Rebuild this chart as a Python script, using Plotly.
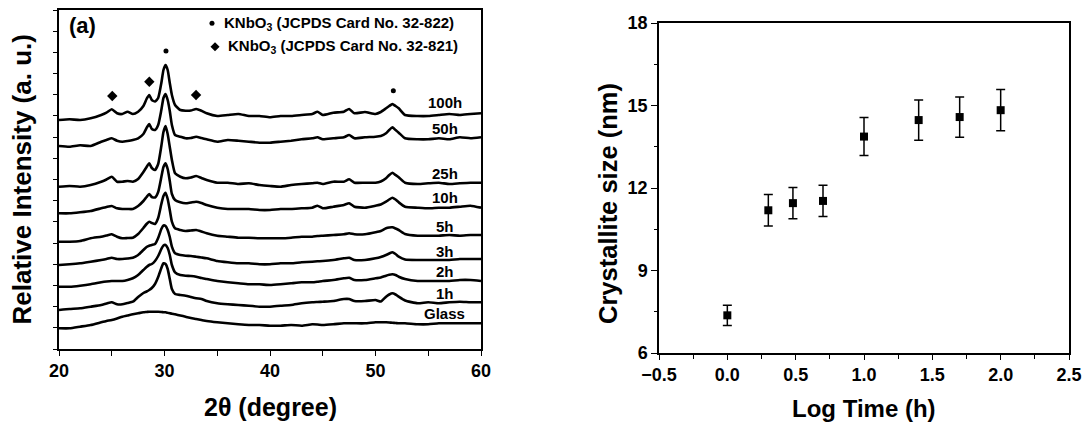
import plotly.graph_objects as go

# ---------------- Left panel: XRD patterns (heights in a.u., stacked) ----------------
two_theta = [20, 21, 22, 23, 24, 24.5, 25, 25.5, 26, 26.5, 27, 27.5, 28, 28.3, 28.55, 28.8,
             29.1, 29.4, 29.7, 29.9, 30.1, 30.3, 30.5, 30.7, 31, 31.5, 32, 32.5, 33, 33.5, 34,
             35, 36, 37, 38, 39, 40, 41, 42, 43, 44, 44.5, 45, 46, 47, 47.5, 48, 49, 50, 50.5,
             51, 51.3, 51.6, 51.9, 52.2, 52.8, 54, 55, 56, 57, 58, 59, 60]

xrd_100h = [229, 229.7, 229, 230.7, 234, 236.3, 239.7, 235.7, 235, 237.3, 235, 237.3, 243, 250, 254, 249,
            247.5, 251, 266, 279, 284, 279, 266, 254, 244, 239, 238.3, 238.5, 240, 238.3, 235.7,
            233, 234, 235, 233, 233, 231.7, 233, 233, 234, 235, 237.3, 234, 236.3, 237.3, 240, 235.7, 237, 235, 237,
            240.7, 243, 245, 243, 240.7, 234, 233, 233, 234, 235, 234, 235, 235.7]
xrd_50h = [203, 202.3, 203.7, 203, 207.3, 209, 210.7, 208.3, 207.3, 208, 209, 210.7, 215, 221, 225, 220,
           219, 224, 239, 251, 255, 249, 238, 224, 214, 212.3, 210.7, 211, 212.3, 211, 209.7,
           207.3, 209, 208.3, 207.3, 206.3, 206.3, 207.3, 208.3, 209.7, 210.7, 211.7, 209.7, 210.7, 211.7, 214, 210.7, 211.7, 212.3, 213,
           215.7, 219, 221.7, 219, 216.3, 210.7, 209.7, 209.7, 210.7, 209.7, 211.7, 210.7, 211.7]
xrd_25h = [162.3, 163, 162.3, 164, 167.3, 169.5, 172.3, 167.3, 167.3, 168, 167.3, 170, 177, 182, 185.7, 181,
           179, 185, 203, 217, 223, 215, 202, 189, 175.7, 172.3, 170.7, 171.5, 173, 171, 169,
           166.3, 166.3, 165, 165.7, 164, 163, 162.3, 164, 165, 165.7, 166.3, 165, 167.3, 167.3, 169.7, 166.3, 166.3, 166.3, 167.5,
           170.7, 174, 176.3, 174, 171.7, 166.3, 165, 165.7, 166.3, 165, 165.7, 166.3, 166.3]
xrd_10h = [135.7, 135.7, 136.7, 138, 140.7, 142, 143, 140.7, 140, 140, 140, 143, 148, 152, 155, 152,
           151.5, 157, 172, 182, 185.7, 180, 168, 155, 149, 146.7, 145.7, 146.5, 147.3, 146, 144,
           141.3, 140, 140, 140, 139, 139, 140, 140, 140.7, 141.3, 143.3, 140.7, 142.3, 144, 145.7, 142.3, 141.3, 143.3, 144.5,
           147.3, 149.5, 151.3, 149.5, 146.7, 142.3, 141.3, 140.7, 141.3, 141.3, 142.3, 143.3, 141.3]
xrd_5h = [107.3, 107.3, 108, 110.7, 112.3, 113.5, 114.7, 112.3, 110.7, 111, 111.3, 115, 121, 125, 127.3, 126,
          125, 131, 145, 153, 156.3, 150, 139, 127.3, 120.7, 119, 118, 118.5, 119, 117.5, 115.7,
          113.3, 112.3, 111.3, 111.3, 110.7, 110.7, 110.7, 111.3, 112.3, 112.3, 113, 113.3, 114, 114.7, 115.7, 114.7, 114.7, 116.7, 118,
          120.7, 121.5, 121.7, 120.5, 119, 115, 113.3, 113.3, 113.3, 114, 113.3, 114, 114]
xrd_3h = [84, 84.7, 85.7, 87.3, 89, 90, 91.3, 90, 90, 90.5, 91.3, 94, 99, 102, 103.3, 104,
          105, 111, 120, 123.5, 123, 119, 112, 102.3, 95.7, 94, 93.3, 93, 92.3, 91.5, 90.7,
          88, 86.7, 85.7, 85.7, 84.7, 84.7, 85.7, 85.7, 86.7, 87.3, 87.7, 88, 89, 90.7, 91.3, 89, 89, 90.7, 92,
          94, 95.5, 96.7, 95, 92.3, 89.5, 89, 89, 89, 89, 90, 90, 90]
xrd_2h = [62.3, 62.3, 63.3, 64.7, 66.7, 67.5, 68, 68, 68, 69, 70.7, 74, 79, 82, 84, 85,
          88, 93, 100, 103.5, 104, 101, 94, 84, 76.7, 74, 73.3, 73, 72.3, 71, 70,
          68, 66.7, 65.7, 64.7, 64.7, 64, 64.7, 65.7, 66.7, 66.7, 67.3, 68, 69, 70.7, 71.3, 69, 69, 70.7, 71.5,
          73.3, 74.2, 74.7, 74, 72.3, 70, 68, 68, 68, 68, 69, 69, 68]
xrd_1h = [39, 40, 40.7, 42.3, 44, 45.5, 46.7, 44.7, 44.7, 46, 47.3, 52, 56, 57.5, 59, 61,
          65, 72, 81, 85.7, 85, 80, 70, 60, 55, 54, 53.3, 52, 50.7, 50, 48,
          45.7, 44.7, 44, 43.3, 42.3, 42.3, 43.3, 44, 45.7, 46.7, 47, 47.3, 48, 50, 50, 48, 48, 49, 47.5,
          52.3, 54.5, 55.7, 54.5, 52.3, 48.5, 45.7, 46.7, 45.7, 46.7, 47.3, 46.7, 46.7]
xrd_glass = [20.7, 20.7, 22.3, 24, 26.7, 28, 29, 30.5, 32.3, 33.5, 34.7, 35.7, 36.7, 37, 37.3, 37.3,
             37.3, 37.2, 37, 36.8, 36.7, 36.2, 35.8, 35.3, 34.7, 33.5, 32.3, 31, 30, 29, 28,
             26.7, 25.7, 24.7, 24, 24, 23.3, 23.3, 24, 23.3, 24.7, 24.5, 24, 24.7, 25.7, 25.7, 25.7, 25.7, 26.7, 26.7,
             26.7, 26.5, 26.2, 26, 25.7, 25.7, 24.7, 24.7, 25.7, 25.7, 25.7, 25.7, 25.7]

sample_labels = ["100h", "50h", "25h", "10h", "5h", "3h", "2h", "1h", "Glass"]
label_heights = [246.5, 220.5, 176, 151.5, 122.3, 98, 77.3, 56, 36]
label_2theta = 56.54

diamond_2theta = [25.05, 28.56, 32.99]
diamond_heights = [253, 267.3, 254]
dot_2theta = [30.14, 51.69]
dot_heights = [298, 258.3]

legend_texts = ["KNbO<sub>3</sub> (JCPDS Card No. 32-822)",
                "KNbO<sub>3</sub> (JCPDS Card No. 32-821)"]

# ---------------- Right panel: crystallite size ----------------
log_time = [0.0, 0.30, 0.48, 0.70, 1.0, 1.40, 1.70, 2.0]
crystallite_size = [7.37, 11.19, 11.45, 11.53, 13.87, 14.47, 14.58, 14.83]
size_error = [0.37, 0.57, 0.57, 0.57, 0.69, 0.73, 0.73, 0.75]

FONT = "Liberation Sans, Arial, Helvetica, sans-serif"
W, H = 1087, 426

fig = go.Figure()

curves = [xrd_100h, xrd_50h, xrd_25h, xrd_10h, xrd_5h, xrd_3h, xrd_2h, xrd_1h, xrd_glass]
for name, ys in zip(sample_labels, curves):
    fig.add_trace(go.Scatter(x=two_theta, y=ys, mode="lines", name=name,
                             line=dict(color="black", width=2.6, shape="spline", smoothing=0.5),
                             xaxis="x", yaxis="y", showlegend=False, hoverinfo="skip"))

fig.add_trace(go.Scatter(x=diamond_2theta, y=diamond_heights, mode="markers",
                         marker=dict(symbol="diamond", size=8, color="black"),
                         xaxis="x", yaxis="y", showlegend=False))
fig.add_trace(go.Scatter(x=dot_2theta, y=dot_heights, mode="markers",
                         marker=dict(symbol="circle", size=5, color="black"),
                         xaxis="x", yaxis="y", showlegend=False))

# legend symbols (inside left panel)
fig.add_trace(go.Scatter(x=[34.50], y=[325.7], mode="markers",
                         marker=dict(symbol="circle", size=5, color="black"),
                         xaxis="x", yaxis="y", showlegend=False, cliponaxis=False))
fig.add_trace(go.Scatter(x=[34.79], y=[302.3], mode="markers",
                         marker=dict(symbol="diamond", size=7, color="black"),
                         xaxis="x", yaxis="y", showlegend=False, cliponaxis=False))

fig.add_trace(go.Scatter(x=log_time, y=crystallite_size, mode="markers",
                         marker=dict(symbol="square", size=8, color="black"),
                         error_y=dict(type="data", array=size_error, color="black",
                                      thickness=1.5, width=4.5),
                         xaxis="x2", yaxis="y2", showlegend=False))

annotations = []
for lab, hh in zip(sample_labels, label_heights):
    annotations.append(dict(x=label_2theta, y=hh, xref="x", yref="y", text=lab,
                            showarrow=False, xanchor="center", yanchor="middle",
                            font=dict(family=FONT, size=15, color="black", weight="bold")))
annotations.append(dict(x=35.45, y=325.7, xref="x", yref="y", text=legend_texts[0],
                        showarrow=False, xanchor="left", yanchor="middle",
                        font=dict(family=FONT, size=15, color="black", weight="bold")))
annotations.append(dict(x=35.83, y=302.3, xref="x", yref="y", text=legend_texts[1],
                        showarrow=False, xanchor="left", yanchor="middle",
                        font=dict(family=FONT, size=15, color="black", weight="bold")))
annotations.append(dict(x=22.18, y=324, xref="x", yref="y", text="(a)",
                        showarrow=False, xanchor="center", yanchor="middle",
                        font=dict(family=FONT, size=22, color="black", weight="bold")))

# axis titles
annotations.append(dict(x=22 / W, y=1 - 179.5 / H, xref="paper", yref="paper",
                        text="Relative Intensity (a. u.)", textangle=-90, showarrow=False,
                        xanchor="center", yanchor="middle",
                        font=dict(family=FONT, size=26, color="black", weight="bold")))
annotations.append(dict(x=270 / W, y=1 - 407 / H, xref="paper", yref="paper",
                        text="2θ (degree)", showarrow=False, xanchor="center", yanchor="middle",
                        font=dict(family=FONT, size=25, color="black", weight="bold")))
annotations.append(dict(x=608 / W, y=1 - 204 / H, xref="paper", yref="paper",
                        text="Crystallite size (nm)", textangle=-90, showarrow=False,
                        xanchor="center", yanchor="middle",
                        font=dict(family=FONT, size=25.5, color="black", weight="bold")))
annotations.append(dict(x=864 / W, y=1 - 408 / H, xref="paper", yref="paper",
                        text="Log Time (h)", showarrow=False, xanchor="center", yanchor="middle",
                        font=dict(family=FONT, size=24, color="black", weight="bold")))

tickfont = dict(family=FONT, size=18, color="black", weight="bold")
axis_common = dict(showgrid=False, zeroline=False, showline=True, linecolor="black",
                   linewidth=1.5, mirror=True, ticks="outside", tickcolor="black",
                   tickwidth=1.3, tickfont=tickfont, automargin=False)

fig.update_layout(
    width=W, height=H, margin=dict(l=0, r=0, t=0, b=0, pad=0, autoexpand=False),
    paper_bgcolor="white", plot_bgcolor="white",
    font=dict(family=FONT, color="black"),
    showlegend=False,
    xaxis=dict(domain=[59 / W, 481 / W], range=[20, 60], tick0=20, dtick=10, ticklen=5,
               anchor="y", minor=dict(dtick=5, ticks="outside", ticklen=5, tickwidth=1.3,
                                      tickcolor="black", showgrid=False),
               **axis_common),
    yaxis=dict(domain=[(H - 349) / H, (H - 10) / H], range=[0, 339], tick0=0, dtick=339 / 16,
               ticklen=4, showticklabels=False, anchor="x", **axis_common),
    xaxis2=dict(domain=[659 / W, 1069 / W], range=[-0.5, 2.5], tick0=-0.5, dtick=0.5,
                tickformat=".1f", ticklen=5, anchor="y2",
                minor=dict(dtick=0.25, ticks="outside", ticklen=4, tickwidth=1.3,
                           tickcolor="black", showgrid=False),
                **axis_common),
    yaxis2=dict(domain=[(H - 353) / H, (H - 23) / H], range=[6, 18], tick0=6, dtick=3,
                ticklen=6, anchor="x2",
                minor=dict(dtick=1.5, ticks="outside", ticklen=3, tickwidth=1.3,
                           tickcolor="black", showgrid=False),
                **axis_common),
    annotations=annotations,
)

fig.write_html("out.html", config={"displayModeBar": False},
               post_script="document.body.style.margin='0';document.body.style.overflow='hidden';")
